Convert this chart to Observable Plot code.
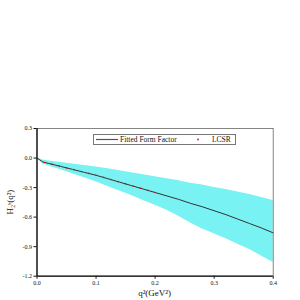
<!DOCTYPE html>
<html><head><meta charset="utf-8">
<script src="https://cdn.jsdelivr.net/npm/d3@7"></script>
<script src="https://cdn.jsdelivr.net/npm/@observablehq/plot@0.6"></script>
<style>
body{margin:0;background:#fff;}
#c{position:relative;width:300px;height:300px;font-family:"Liberation Serif",serif;color:#111;}
.lab{position:absolute;white-space:nowrap;font-size:9px;}
#legend{position:absolute;left:93px;top:134px;width:141px;height:9px;border:0.8px solid #777;background:#fff;font-size:7.5px;line-height:9px;}
</style>
</head><body>
<div id="c"></div>
<script>
const q2 = [0, 0.01, 0.02, 0.04, 0.06, 0.08, 0.1, 0.12, 0.14, 0.16, 0.18, 0.2, 0.22, 0.24, 0.26, 0.28, 0.3, 0.32, 0.34, 0.36, 0.38, 0.4];
const fitted = [0, -0.04, -0.055, -0.085, -0.115, -0.145, -0.175, -0.21, -0.245, -0.28, -0.315, -0.35, -0.385, -0.42, -0.46, -0.495, -0.535, -0.575, -0.62, -0.665, -0.71, -0.76];
const upper = [0, -0.02, -0.03, -0.045, -0.06, -0.075, -0.09, -0.11, -0.13, -0.15, -0.17, -0.19, -0.21, -0.23, -0.255, -0.275, -0.3, -0.32, -0.345, -0.37, -0.4, -0.43];
const lower = [0, -0.06, -0.08, -0.12, -0.16, -0.2, -0.24, -0.29, -0.335, -0.38, -0.43, -0.48, -0.53, -0.59, -0.66, -0.72, -0.77, -0.82, -0.875, -0.93, -0.995, -1.06];
const lcsrQ2 = [0, 0.0125, 0.025, 0.0375, 0.05, 0.0625, 0.075, 0.0875, 0.1, 0.1125, 0.125, 0.1375, 0.15, 0.1625, 0.175, 0.1875, 0.2];
const lcsr = [-0.005, -0.045, -0.062, -0.08, -0.1, -0.118, -0.137, -0.156, -0.175, -0.196, -0.218, -0.24, -0.262, -0.284, -0.306, -0.328, -0.35];
const xTicks = [0, 0.1, 0.2, 0.3, 0.4];
const yTicks = [0.3, 0, -0.3, -0.6, -0.9, -1.2];
const xLabel = "q²(GeV²)";
const yLabel = "H₂ˢ(q²)";
const legendLabels = ["Fitted Form Factor", "LCSR"];

const band = q2.map((q, i) => ({q, fit: fitted[i], hi: upper[i], lo: lower[i]}));
const pts = lcsrQ2.map((q, i) => ({q, v: lcsr[i]}));

const plot = Plot.plot({
  width: 300, height: 300,
  marginLeft: 36.5, marginRight: 27.3, marginTop: 128, marginBottom: 24.3,
  style: {fontFamily: "Liberation Serif", fontSize: "6px", background: "white", color: "#111"},
  x: {domain: [0, 0.4], ticks: xTicks, tickFormat: d => d.toFixed(1), tickSize: 3, tickPadding: 2, label: null},
  y: {domain: [-1.2, 0.3], ticks: yTicks, tickFormat: d => d.toFixed(1), tickSize: 3, tickPadding: 2, label: null},
  marks: [
    Plot.areaY(band, {x: "q", y1: "lo", y2: "hi", fill: "#78f2f2"}),
    Plot.line(band, {x: "q", y: "fit", stroke: "#333", strokeWidth: 1}),
    Plot.dot(pts, {x: "q", y: "v", r: 0.8, fill: "#e01010", stroke: "none"}),
    Plot.frame({stroke: "#666", strokeWidth: 0.8}),
    Plot.ruleX([0], {stroke: "#111", strokeWidth: 1.3}),
    Plot.ruleY([-1.2], {stroke: "#111", strokeWidth: 1.3})
  ]
});

const c = document.getElementById("c");
c.appendChild(plot);

const xl = document.createElement("div");
xl.className = "lab"; xl.textContent = xLabel;
xl.style.left = "154.6px"; xl.style.top = "288px"; xl.style.transform = "translateX(-50%)";
c.appendChild(xl);

const yl = document.createElement("div");
yl.className = "lab"; yl.textContent = yLabel;
yl.style.left = "10px"; yl.style.top = "202px"; yl.style.transform = "translate(-50%,-50%) rotate(-90deg)";
c.appendChild(yl);

const lg = document.createElement("div");
lg.id = "legend";
lg.innerHTML = `<svg width="141" height="9" style="position:absolute;left:0;top:0">
<line x1="2" x2="24" y1="4.5" y2="4.5" stroke="#555" stroke-width="1.2"/>
<circle cx="104" cy="4.5" r="0.9" fill="#e01010"/></svg>
<span style="position:absolute;left:26px;top:0">${legendLabels[0]}</span>
<span style="position:absolute;left:118px;top:0">${legendLabels[1]}</span>`;
c.appendChild(lg);
</script>
</body></html>
